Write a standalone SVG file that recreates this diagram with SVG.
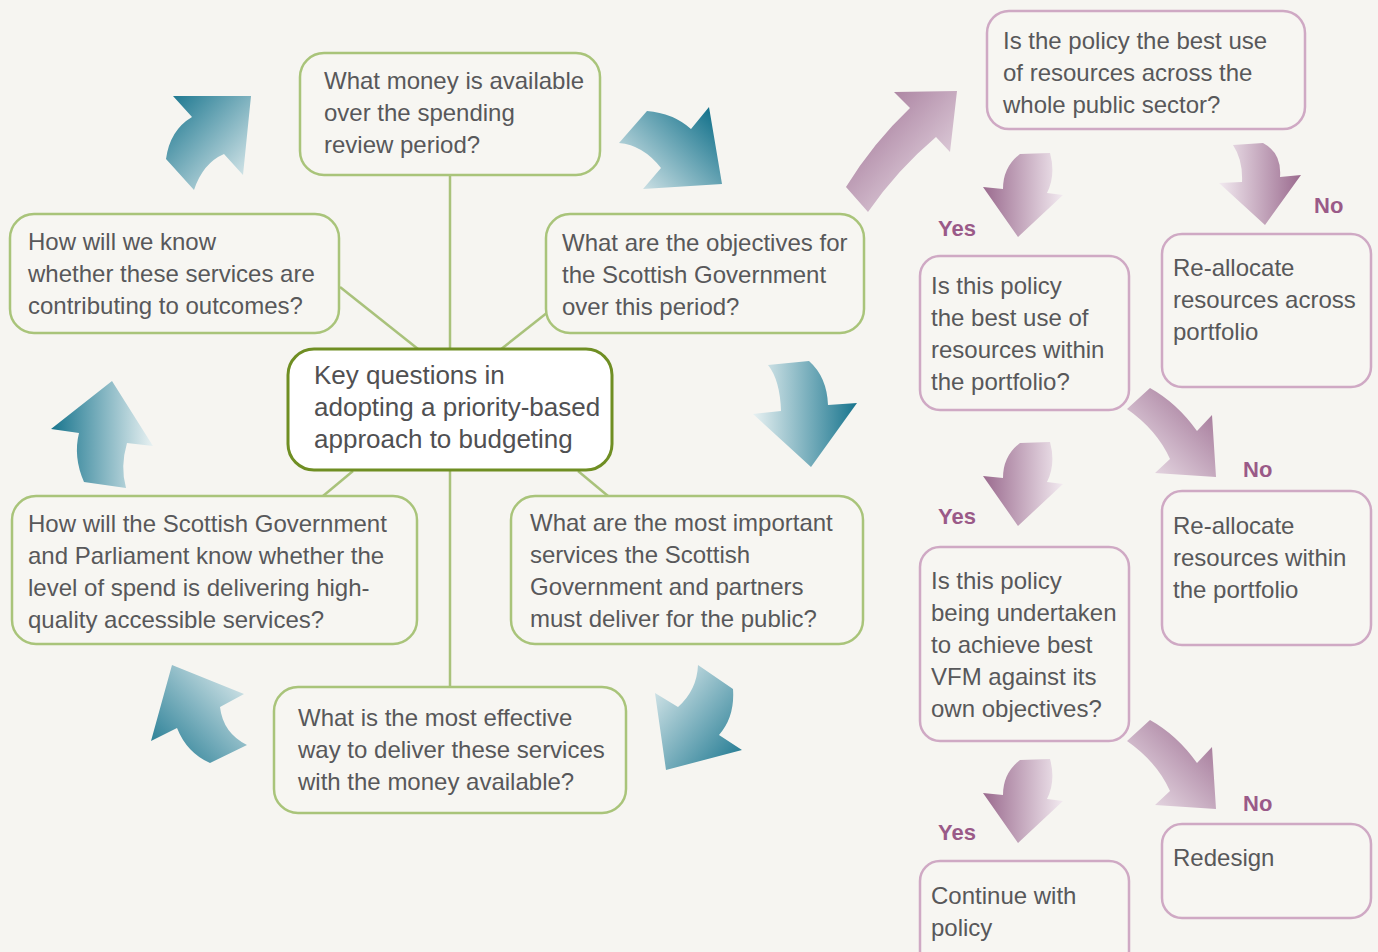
<svg xmlns="http://www.w3.org/2000/svg" width="1378" height="952" viewBox="0 0 1378 952">
<defs>
<style>
.t{font-family:"Liberation Sans",Arial,sans-serif;font-size:24px;fill:#58585a}
.c{font-family:"Liberation Sans",Arial,sans-serif;font-size:26px;fill:#505052}
.yn{font-family:"Liberation Sans",Arial,sans-serif;font-size:22px;font-weight:bold;fill:#9a5a88}
.gb{fill:#f7f6f2;stroke:#a9c47a;stroke-width:2.5}
.pb{fill:#f7f6f2;stroke:#cfa9c4;stroke-width:2.5}
.cb{fill:#ffffff;stroke:#6f8e23;stroke-width:3}
.ln{stroke:#a9c27b;stroke-width:2.5;fill:none}
</style>
<linearGradient id="tTL" x1="0" y1="0" x2="1" y2="1"><stop offset="0" stop-color="#17748d"/><stop offset="1" stop-color="#e8f1f2"/></linearGradient>
<linearGradient id="tTR" x1="1" y1="0.2" x2="0" y2="1"><stop offset="0" stop-color="#17748d"/><stop offset="1" stop-color="#e8f1f2"/></linearGradient>
<linearGradient id="tR" x1="1" y1="0" x2="0" y2="0"><stop offset="0" stop-color="#17748d"/><stop offset="1" stop-color="#e8f1f2"/></linearGradient>
<linearGradient id="tBR" x1="1" y1="1" x2="0" y2="0"><stop offset="0" stop-color="#17748d"/><stop offset="1" stop-color="#e8f1f2"/></linearGradient>
<linearGradient id="tBL" x1="0" y1="1" x2="1" y2="0"><stop offset="0" stop-color="#17748d"/><stop offset="1" stop-color="#e8f1f2"/></linearGradient>
<linearGradient id="tL" x1="0" y1="0" x2="1" y2="0"><stop offset="0" stop-color="#17748d"/><stop offset="1" stop-color="#e8f1f2"/></linearGradient>
<linearGradient id="pTL" x1="0" y1="0" x2="1" y2="1"><stop offset="0" stop-color="#9a6a8e"/><stop offset="1" stop-color="#f2eaf0"/></linearGradient>
<linearGradient id="pL" x1="0" y1="0" x2="1" y2="0"><stop offset="0" stop-color="#9a6a8e"/><stop offset="1" stop-color="#f2eaf0"/></linearGradient>
<linearGradient id="pR" x1="1" y1="0" x2="0" y2="0"><stop offset="0" stop-color="#9a6a8e"/><stop offset="1" stop-color="#f2eaf0"/></linearGradient>
<linearGradient id="pTR" x1="1" y1="0" x2="0" y2="1"><stop offset="0" stop-color="#9a6a8e"/><stop offset="1" stop-color="#f2eaf0"/></linearGradient>
</defs>
<rect x="0" y="0" width="1378" height="952" fill="#f6f5f1"/>

<g id="connectors">
<line class="ln" x1="450" y1="175" x2="450" y2="350"/>
<line class="ln" x1="450" y1="470" x2="450" y2="688"/>
<line class="ln" x1="340" y1="287" x2="418" y2="349"/>
<line class="ln" x1="548" y1="312" x2="500" y2="350"/>
<line class="ln" x1="323" y1="496" x2="353" y2="471"/>
<line class="ln" x1="578" y1="471" x2="608" y2="496"/>
</g>

<g id="cycle-arrows">
<path fill="url(#tTL)" d="M173,96 L251,96 L243,175 L224,154 Q203,163 194,190 L166,159 Q170,130 192,117 Z"/>
<path fill="url(#tTR)" d="M709,107 L722,184 L643,189 L661,168 Q643,145 619,143 L647,111 Q673,113 691,129 Z"/>
<path fill="url(#tR)" d="M768,365 L809,361 Q827,377 828,405 L857,403 L811,467 L753,414 L781,411 Q780,380 768,365 Z"/>
<path fill="url(#tBR)" d="M698,665 L733,689 Q735,717 719,735 L742,750 L666,770 L655,693 L678,707 Q697,690 698,665 Z"/>
<path fill="url(#tBL)" d="M172,665 L244,694 L220,707 Q223,733 247,745 L210,763 Q187,753 177,728 L151,741 Z"/>
<path fill="url(#tL)" d="M112,381 L153,446 L127,443 Q120,467 126,488 L84,482 Q73,457 79,433 L51,429 Z"/>
</g>

<g id="decision-arrows">
<path fill="url(#pTL)" d="M894,92 L957,91 L950,152 L936,137 Q897,170 868,212 L846,187 Q873,143 910,108 Z"/>
<path id="yesArrow" fill="url(#pL)" d="M1020,154 L1050,153 Q1056,175 1047,193 L1063,195 L1018,237 L983,187 L1003,189 Q1003,167 1020,154 Z"/>
<path fill="url(#pL)" transform="translate(0,289)" d="M1020,154 L1050,153 Q1056,175 1047,193 L1063,195 L1018,237 L983,187 L1003,189 Q1003,167 1020,154 Z"/>
<path fill="url(#pL)" transform="translate(0,606)" d="M1020,154 L1050,153 Q1056,175 1047,193 L1063,195 L1018,237 L983,187 L1003,189 Q1003,167 1020,154 Z"/>
<path fill="url(#pR)" d="M1233,145 L1263,143 Q1282,153 1280,177 L1301,175 L1265,225 L1219,183 L1242,182 Q1243,160 1233,145 Z"/>
<path fill="url(#pTR)" d="M1150,388 Q1177,403 1197,431 L1212,415 L1216,477 L1155,473 L1170,459 Q1157,430 1127,409 Z"/>
<path fill="url(#pTR)" transform="translate(0,332)" d="M1150,388 Q1177,403 1197,431 L1212,415 L1216,477 L1155,473 L1170,459 Q1157,430 1127,409 Z"/>
</g>

<g id="node-money">
<rect class="gb" x="300" y="53" width="300" height="122" rx="24"/>
<text class="t" x="324" y="89">What money is available</text>
<text class="t" x="324" y="121">over the spending</text>
<text class="t" x="324" y="153">review period?</text>
</g>
<g id="node-know">
<rect class="gb" x="10" y="214" width="329" height="119" rx="24"/>
<text class="t" x="28" y="250">How will we know</text>
<text class="t" x="28" y="282">whether these services are</text>
<text class="t" x="28" y="314">contributing to outcomes?</text>
</g>
<g id="node-objectives">
<rect class="gb" x="546" y="214" width="318" height="119" rx="24"/>
<text class="t" x="562" y="251">What are the objectives for</text>
<text class="t" x="562" y="283">the Scottish Government</text>
<text class="t" x="562" y="315">over this period?</text>
</g>
<g id="node-center">
<rect class="cb" x="288" y="349" width="324" height="121" rx="26"/>
<text class="c" x="314" y="384">Key questions in</text>
<text class="c" x="314" y="416">adopting a priority-based</text>
<text class="c" x="314" y="448">approach to budgeting</text>
</g>
<g id="node-parliament">
<rect class="gb" x="12" y="496" width="405" height="148" rx="24"/>
<text class="t" x="28" y="532">How will the Scottish Government</text>
<text class="t" x="28" y="564">and Parliament know whether the</text>
<text class="t" x="28" y="596">level of spend is delivering high-</text>
<text class="t" x="28" y="628">quality accessible services?</text>
</g>
<g id="node-services">
<rect class="gb" x="511" y="496" width="352" height="148" rx="24"/>
<text class="t" x="530" y="531">What are the most important</text>
<text class="t" x="530" y="563">services the Scottish</text>
<text class="t" x="530" y="595">Government and partners</text>
<text class="t" x="530" y="627">must deliver for the public?</text>
</g>
<g id="node-effective">
<rect class="gb" x="274" y="687" width="352" height="126" rx="24"/>
<text class="t" x="298" y="726">What is the most effective</text>
<text class="t" x="298" y="758">way to deliver these services</text>
<text class="t" x="298" y="790">with the money available?</text>
</g>

<g id="node-public-sector">
<rect class="pb" x="987" y="11" width="318" height="118" rx="22"/>
<text class="t" x="1003" y="49">Is the policy the best use</text>
<text class="t" x="1003" y="81">of resources across the</text>
<text class="t" x="1003" y="113">whole public sector?</text>
</g>
<g id="node-portfolio">
<rect class="pb" x="920" y="256" width="209" height="154" rx="20"/>
<text class="t" x="931" y="294">Is this policy</text>
<text class="t" x="931" y="326">the best use of</text>
<text class="t" x="931" y="358">resources within</text>
<text class="t" x="931" y="390">the portfolio?</text>
</g>
<g id="node-realloc-across">
<rect class="pb" x="1162" y="234" width="209" height="153" rx="20"/>
<text class="t" x="1173" y="276">Re-allocate</text>
<text class="t" x="1173" y="308">resources across</text>
<text class="t" x="1173" y="340">portfolio</text>
</g>
<g id="node-realloc-within">
<rect class="pb" x="1162" y="491" width="209" height="154" rx="20"/>
<text class="t" x="1173" y="534">Re-allocate</text>
<text class="t" x="1173" y="566">resources within</text>
<text class="t" x="1173" y="598">the portfolio</text>
</g>
<g id="node-vfm">
<rect class="pb" x="920" y="547" width="209" height="194" rx="20"/>
<text class="t" x="931" y="589">Is this policy</text>
<text class="t" x="931" y="621">being undertaken</text>
<text class="t" x="931" y="653">to achieve best</text>
<text class="t" x="931" y="685">VFM against its</text>
<text class="t" x="931" y="717">own objectives?</text>
</g>
<g id="node-redesign">
<rect class="pb" x="1162" y="824" width="209" height="94" rx="20"/>
<text class="t" x="1173" y="866">Redesign</text>
</g>
<g id="node-continue">
<rect class="pb" x="920" y="861" width="209" height="110" rx="20"/>
<text class="t" x="931" y="904">Continue with</text>
<text class="t" x="931" y="936">policy</text>
</g>

<g id="labels">
<text class="yn" x="938" y="236">Yes</text>
<text class="yn" x="938" y="524">Yes</text>
<text class="yn" x="938" y="840">Yes</text>
<text class="yn" x="1314" y="213">No</text>
<text class="yn" x="1243" y="477">No</text>
<text class="yn" x="1243" y="811">No</text>
</g>
</svg>
